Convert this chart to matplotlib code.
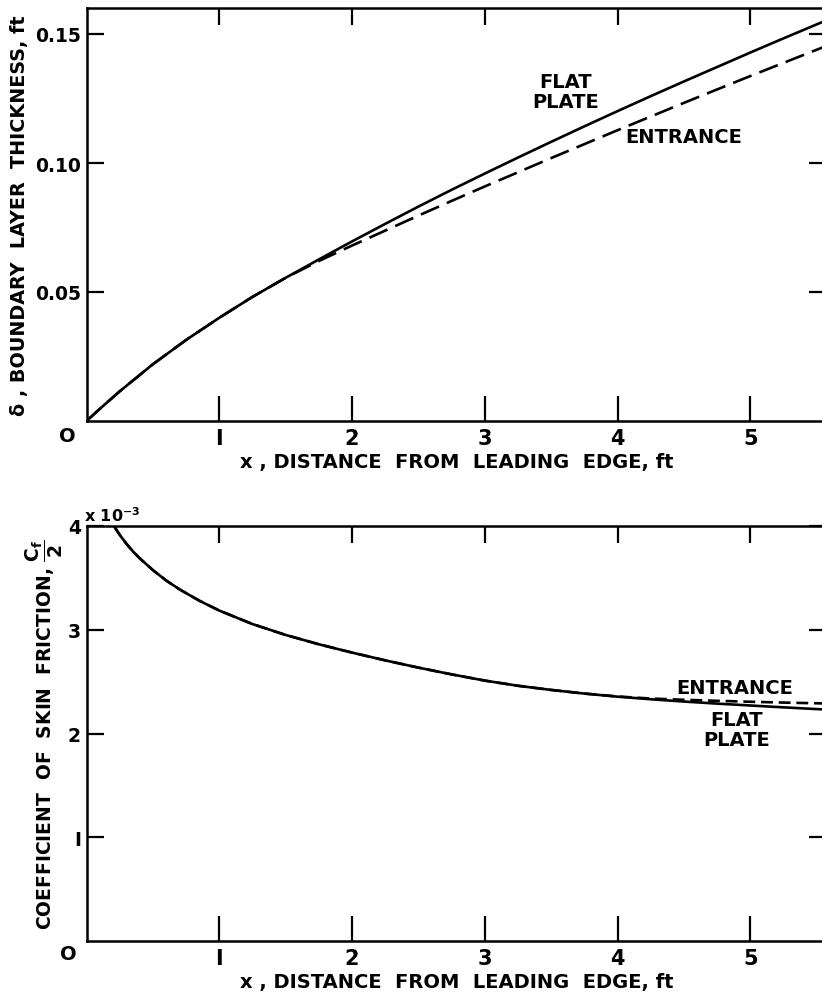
import matplotlib
matplotlib.use("Agg")
import matplotlib.pyplot as plt

# ---------------- data ----------------
# Top: boundary layer thickness delta (ft) vs x (ft)
x_flat_top = [0.0, 0.1, 0.25, 0.5, 0.75, 1.0, 1.25, 1.5, 1.75, 2.0, 2.25, 2.5, 2.75, 3.0,
              3.25, 3.5, 3.75, 4.0, 4.25, 4.5, 4.75, 5.0, 5.25, 5.55]
d_flat_top = [0.0, 0.0047, 0.0115, 0.0220, 0.0314, 0.0400, 0.0481, 0.0555, 0.0626, 0.0696,
              0.0764, 0.0831, 0.0896, 0.0959, 0.1021, 0.1082, 0.1142, 0.1201, 0.1259, 0.1316,
              0.1372, 0.1428, 0.1483, 0.1548]
x_ent_top = [0.0, 0.1, 0.25, 0.5, 0.75, 1.0, 1.25, 1.5, 1.75, 2.0, 2.25, 2.5, 2.75, 3.0,
             3.25, 3.5, 3.75, 4.0, 4.25, 4.5, 4.75, 5.0, 5.25, 5.55]
d_ent_top = [0.0, 0.0047, 0.0115, 0.0220, 0.0314, 0.0400, 0.0481, 0.0555, 0.0620, 0.0680,
             0.0738, 0.0796, 0.0853, 0.0909, 0.0964, 0.1019, 0.1073, 0.1127, 0.1180, 0.1233,
             0.1285, 0.1337, 0.1388, 0.1449]

# Bottom: skin friction coefficient Cf/2 (x1e-3) vs x (ft)
x_flat_bot = [0.207, 0.25, 0.3, 0.35, 0.4, 0.5, 0.6, 0.7, 0.85, 1.0, 1.25, 1.5, 1.75, 2.0,
              2.25, 2.5, 2.75, 3.0, 3.25, 3.5, 3.75, 4.0, 4.25, 4.5, 4.75, 5.0, 5.25, 5.55]
c_flat_bot = [4.0, 3.915, 3.83, 3.755, 3.69, 3.575, 3.475, 3.39, 3.28, 3.185, 3.055, 2.95, 2.86,
              2.78, 2.705, 2.635, 2.57, 2.51, 2.46, 2.42, 2.385, 2.355, 2.33, 2.308, 2.288,
              2.27, 2.252, 2.232]
x_ent_bot = [0.207, 0.25, 0.3, 0.35, 0.4, 0.5, 0.6, 0.7, 0.85, 1.0, 1.25, 1.5, 1.75, 2.0,
             2.25, 2.5, 2.75, 3.0, 3.25, 3.5, 3.75, 4.0, 4.25, 4.5, 4.75, 5.0, 5.25, 5.55]
c_ent_bot = [4.0, 3.915, 3.83, 3.755, 3.69, 3.575, 3.475, 3.39, 3.28, 3.185, 3.055, 2.95, 2.86,
             2.78, 2.705, 2.635, 2.57, 2.51, 2.46, 2.42, 2.385, 2.357, 2.337, 2.325, 2.315,
             2.306, 2.298, 2.29]

xticks = [1, 2, 3, 4, 5]
xticklabels = ["I", "2", "3", "4", "5"]
top_yticks = [0.05, 0.10, 0.15]
top_yticklabels = ["0.05", "0.10", "0.15"]
bot_yticks = [1, 2, 3, 4]
bot_yticklabels = ["I", "2", "3", "4"]

xlabel = "x , DISTANCE  FROM  LEADING  EDGE, ft"
top_ylabel = "δ , BOUNDARY  LAYER  THICKNESS, ft"
bot_ylabel = r"COEFFICIENT  OF  SKIN  FRICTION, $\mathbf{\dfrac{C_f}{2}}$"

# ---------------- figure ----------------
W, H = 822, 995
fig = plt.figure(figsize=(W / 100, H / 100), dpi=100)
plt.rcParams['font.family'] = ['DejaVu Sans']
plt.rcParams['mathtext.fontset'] = 'dejavusans'
FONT = dict(family='DejaVu Sans', weight='bold')

x0_px = 86.5
scale = 132.75
right_px = 826
xmax = (right_px - x0_px) / scale


def fx(px):
    return px / W


def fy(py):
    return 1 - py / H


ax1 = fig.add_axes([fx(x0_px), fy(422), fx(right_px - x0_px), fy(9) - fy(422)])
ax2 = fig.add_axes([fx(x0_px), fy(942), fx(right_px - x0_px), fy(527) - fy(942)])

lw_curve = 1.9
ax1.plot(x_flat_top, d_flat_top, color='black', lw=lw_curve)
ax1.plot(x_ent_top, d_ent_top, color='black', lw=lw_curve, dashes=(7.5, 3.2))
ax2.plot(x_flat_bot, c_flat_bot, color='black', lw=lw_curve)
ax2.plot(x_ent_bot, c_ent_bot, color='black', lw=lw_curve, dashes=(4.5, 2.2))

ax1.set_ylim(0, (422 - 9) / 2580)
ax2.set_ylim(0, 4)
for ax, yt, ytl in [(ax1, top_yticks, top_yticklabels), (ax2, bot_yticks, bot_yticklabels)]:
    ax.set_xlim(0, xmax)
    ax.set_xticks(xticks)
    ax.set_xticklabels(xticklabels, **FONT, fontsize=15)
    ax.set_yticks(yt)
    ax.set_yticklabels(ytl, **FONT, fontsize=13.5)
    ax.tick_params(axis='x', direction='in', length=18, width=1.6, pad=5, top=False)
    ax.tick_params(axis='y', direction='in', length=12, width=1.6, pad=4, right=False)
    for s in ax.spines.values():
        s.set_linewidth(1.8)
    sx = ax.secondary_xaxis('top')
    sx.set_xticks(xticks)
    sx.tick_params(direction='in', length=12, width=1.6, labeltop=False)
    sx.spines['top'].set_visible(False)
    sy = ax.secondary_yaxis('right')
    sy.set_yticks(yt)
    sy.tick_params(direction='in', length=12, width=1.6, labelright=False)
    sy.spines['right'].set_visible(False)
    ax.set_xlabel(xlabel, **FONT, fontsize=14, labelpad=3)

ax1.set_ylabel(top_ylabel, **FONT, fontsize=13.8, labelpad=4)
ax2.set_ylabel(bot_ylabel, **FONT, fontsize=13.5, labelpad=2)

# corner zeros and multiplier
fig.text(fx(67), fy(437), "O", ha='center', va='center', **FONT, fontsize=14)
fig.text(fx(68), fy(955), "O", ha='center', va='center', **FONT, fontsize=14)
fig.text(fx(84), fy(516), r"x $\mathregular{10^{-3}}$", ha='left', va='center', **FONT, fontsize=11.5)

# annotations
ax1.text(3.61, 0.1277, "FLAT\nPLATE", ha='center', va='center', **FONT, fontsize=14, linespacing=1.05)
ax1.text(4.50, 0.1102, "ENTRANCE", ha='center', va='center', **FONT, fontsize=14)
ax2.text(4.885, 2.44, "ENTRANCE", ha='center', va='center', **FONT, fontsize=14)
ax2.text(4.9, 2.04, "FLAT\nPLATE", ha='center', va='center', **FONT, fontsize=14, linespacing=1.05)

fig.savefig("out.png", dpi=100)
